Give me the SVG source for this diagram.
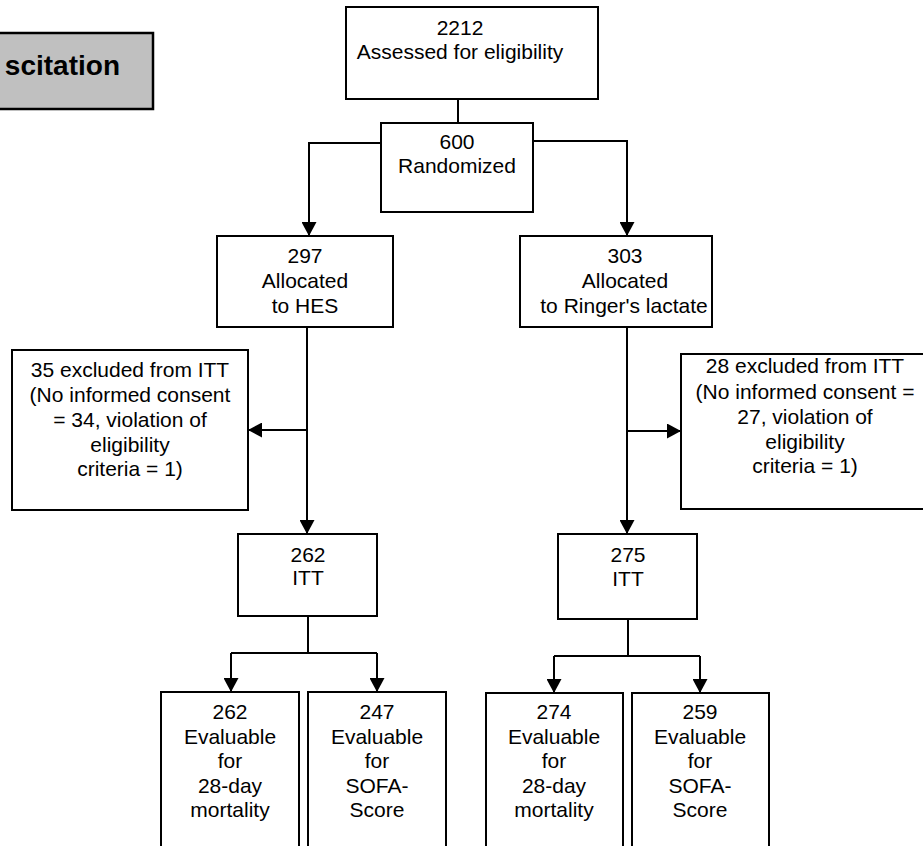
<svg xmlns="http://www.w3.org/2000/svg" width="923" height="846" viewBox="0 0 923 846">
<defs>
<style>
.box{fill:#fff;stroke:#000;stroke-width:2}
.gray{fill:#c0c0c0;stroke:#000;stroke-width:2.5}
.t{font-family:"Liberation Sans",Arial,sans-serif;font-size:21px;fill:#000;text-anchor:middle}
.tb{font-family:"Liberation Sans",Arial,sans-serif;font-size:28px;font-weight:bold;fill:#000;text-anchor:end}
.c{fill:none;stroke:#000;stroke-width:2}
.a{marker-end:url(#ah)}
</style>
<marker id="ah" markerUnits="userSpaceOnUse" markerWidth="15" markerHeight="15" refX="14" refY="7.5" orient="auto">
<path d="M0,0 L14,7.5 L0,15 z" fill="#000"/>
</marker>
</defs>
<rect width="923" height="846" fill="#fff"/>
<g id="title">
<rect class="gray" x="-10" y="33" width="163" height="76"/>
<text class="tb" x="120" y="75">scitation</text>
</g>
<g id="connectors">
<path class="c" d="M458,99 V123"/>
<path class="c a" d="M381,143 H309 V236"/>
<path class="c a" d="M528,141 H627 V236"/>
<path class="c" d="M528,141 V145"/>
<path class="c a" d="M307,327 V534"/>
<path class="c a" d="M307,430 H248"/>
<path class="c a" d="M627,327 V534"/>
<path class="c a" d="M627,431 H681"/>
<path class="c" d="M308,616 V653 M231,653 H377"/>
<path class="c a" d="M231,653 V692"/>
<path class="c a" d="M377,653 V692"/>
<path class="c" d="M628,619 V656 M554,656 H700"/>
<path class="c a" d="M554,656 V693"/>
<path class="c a" d="M700,656 V693"/>
</g>
<g id="assessed">
<rect class="box" x="346" y="7" width="252" height="92"/>
<text class="t" x="460" y="35">2212</text>
<text class="t" x="460" y="59">Assessed for eligibility</text>
</g>
<g id="randomized">
<rect class="box" x="381" y="123" width="152" height="89"/>
<text class="t" x="457" y="149">600</text>
<text class="t" x="457" y="173">Randomized</text>
</g>
<g id="hes">
<rect class="box" x="217" y="236" width="176" height="91"/>
<text class="t" x="305" y="263">297</text>
<text class="t" x="305" y="288">Allocated</text>
<text class="t" x="305" y="313">to HES</text>
</g>
<g id="ringer">
<rect class="box" x="520" y="236" width="192" height="91"/>
<text class="t" x="625" y="263">303</text>
<text class="t" x="625" y="288">Allocated</text>
<text class="t" x="624" y="313">to Ringer's lactate</text>
</g>
<g id="excl-hes">
<rect class="box" x="12" y="350" width="236" height="160"/>
<text class="t" x="130" y="377">35 excluded from ITT</text>
<text class="t" x="130" y="402">(No informed consent</text>
<text class="t" x="130" y="427">= 34, violation of</text>
<text class="t" x="130" y="452">eligibility</text>
<text class="t" x="130" y="476">criteria = 1)</text>
</g>
<g id="excl-ringer">
<rect class="box" x="681" y="354" width="248" height="155"/>
<text class="t" x="805" y="373">28 excluded from ITT</text>
<text class="t" x="805" y="399">(No informed consent =</text>
<text class="t" x="805" y="424">27, violation of</text>
<text class="t" x="805" y="449">eligibility</text>
<text class="t" x="805" y="473">criteria = 1)</text>
</g>
<g id="itt-hes">
<rect class="box" x="238" y="534" width="139" height="82"/>
<text class="t" x="308" y="562">262</text>
<text class="t" x="308" y="585">ITT</text>
</g>
<g id="itt-ringer">
<rect class="box" x="558" y="534" width="139" height="85"/>
<text class="t" x="628" y="562">275</text>
<text class="t" x="628" y="586">ITT</text>
</g>
<g id="eval-hes-mort">
<rect class="box" x="161" y="692" width="138" height="160"/>
<text class="t" x="230" y="719">262</text>
<text class="t" x="230" y="744">Evaluable</text>
<text class="t" x="230" y="768">for</text>
<text class="t" x="230" y="793">28-day</text>
<text class="t" x="230" y="817">mortality</text>
</g>
<g id="eval-hes-sofa">
<rect class="box" x="308" y="692" width="138" height="160"/>
<text class="t" x="377" y="719">247</text>
<text class="t" x="377" y="744">Evaluable</text>
<text class="t" x="377" y="768">for</text>
<text class="t" x="377" y="793">SOFA-</text>
<text class="t" x="377" y="817">Score</text>
</g>
<g id="eval-ringer-mort">
<rect class="box" x="486" y="693" width="137" height="160"/>
<text class="t" x="554" y="719">274</text>
<text class="t" x="554" y="744">Evaluable</text>
<text class="t" x="554" y="768">for</text>
<text class="t" x="554" y="793">28-day</text>
<text class="t" x="554" y="817">mortality</text>
</g>
<g id="eval-ringer-sofa">
<rect class="box" x="632" y="693" width="137" height="160"/>
<text class="t" x="700" y="719">259</text>
<text class="t" x="700" y="744">Evaluable</text>
<text class="t" x="700" y="768">for</text>
<text class="t" x="700" y="793">SOFA-</text>
<text class="t" x="700" y="817">Score</text>
</g>
</svg>
